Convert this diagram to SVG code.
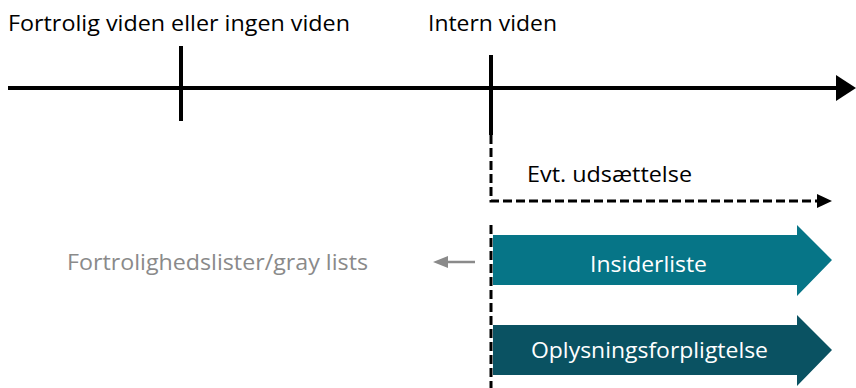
<svg xmlns="http://www.w3.org/2000/svg" width="856" height="388" viewBox="0 0 856 388">
<defs>
<style>
text{font-family:"Open Sans","Liberation Sans",sans-serif;font-size:22px}
.blk{fill:#000}
.wht{fill:#fff}
.gry{fill:#8a8a8a}
.ln{stroke:#000;stroke-width:4;fill:none}
.dash{stroke:#000;stroke-width:3;fill:none;stroke-dasharray:9 4}
</style>
</defs>
<g id="connectors">
<path class="ln" d="M8,88 H836"/>
<path d="M836,75 L856,88 L836,101 Z" fill="#000"/>
<path class="ln" d="M181,46 V121"/>
<path class="ln" d="M491,55 V135"/>
<path class="dash" d="M491,135 V201 H818"/>
<path d="M817,194 L832,201 L817,208 Z" fill="#000"/>
<path class="dash" d="M491,225 V388"/>
<path d="M475,262 H446" stroke="#8a8a8a" stroke-width="2.5" fill="none"/>
<path d="M448,256 L433,262 L448,268 Z" fill="#8a8a8a"/>
</g>
<g id="label-fortrolig"><text class="blk" x="8" y="31" textLength="342" lengthAdjust="spacingAndGlyphs">Fortrolig viden eller ingen viden</text></g>
<g id="label-intern"><text class="blk" x="428" y="31" textLength="129" lengthAdjust="spacingAndGlyphs">Intern viden</text></g>
<g id="label-udsaettelse"><text class="blk" x="527" y="182" textLength="165" lengthAdjust="spacingAndGlyphs">Evt. udsættelse</text></g>
<g id="label-gray"><text class="gry" x="67" y="270" textLength="301" lengthAdjust="spacingAndGlyphs">Fortrolighedslister/gray lists</text></g>
<g id="insiderliste">
<path d="M493,235 H797 V225 L832,260 L797,296 V285 H493 Z" fill="#067587"/>
<text class="wht" x="590" y="272" textLength="117" lengthAdjust="spacingAndGlyphs">Insiderliste</text>
</g>
<g id="oplysningsforpligtelse">
<path d="M493,325 H797 V315 L832,350 L797,386 V375 H493 Z" fill="#0a5262"/>
<text class="wht" x="531" y="358" textLength="237" lengthAdjust="spacingAndGlyphs">Oplysningsforpligtelse</text>
</g>
</svg>
